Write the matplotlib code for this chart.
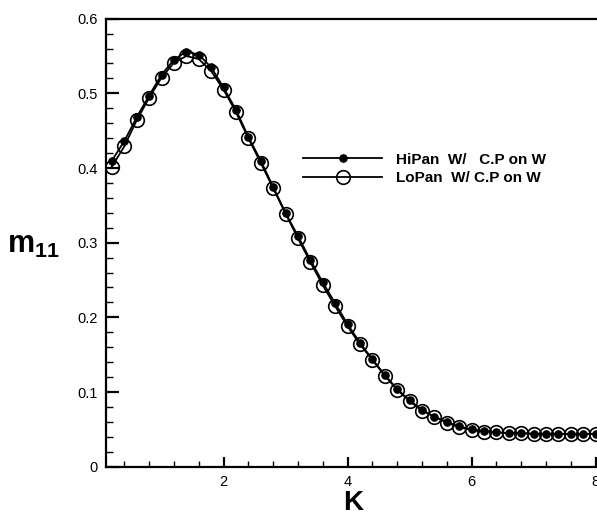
import matplotlib
matplotlib.use("Agg")
import matplotlib.pyplot as plt
from matplotlib.ticker import MultipleLocator, FixedLocator

plt.rcParams['font.family'] = ['Liberation Sans', 'DejaVu Sans']
plt.rcParams['mathtext.fontset'] = 'custom'
plt.rcParams['mathtext.rm'] = 'Liberation Sans'
plt.rcParams['mathtext.bf'] = 'Liberation Sans:bold'

k_vals = [0.2, 0.4, 0.6, 0.8, 1.0, 1.2, 1.4, 1.6, 1.8, 2.0,
          2.2, 2.4, 2.6, 2.8, 3.0, 3.2, 3.4, 3.6, 3.8, 4.0,
          4.2, 4.4, 4.6, 4.8, 5.0, 5.2, 5.4, 5.6, 5.8, 6.0,
          6.2, 6.4, 6.6, 6.8, 7.0, 7.2, 7.4, 7.6, 7.8, 8.0]
hipan = [0.410, 0.436, 0.468, 0.497, 0.525, 0.545, 0.556, 0.552, 0.535, 0.508,
         0.478, 0.442, 0.410, 0.375, 0.340, 0.309, 0.277, 0.247, 0.219, 0.191,
         0.166, 0.144, 0.123, 0.104, 0.089, 0.076, 0.067, 0.060, 0.054, 0.050,
         0.048, 0.046, 0.045, 0.045, 0.044, 0.044, 0.044, 0.044, 0.044, 0.044]
lopan = [0.402, 0.429, 0.464, 0.494, 0.521, 0.541, 0.550, 0.546, 0.530, 0.505,
         0.475, 0.440, 0.407, 0.373, 0.339, 0.306, 0.274, 0.243, 0.215, 0.188,
         0.164, 0.143, 0.122, 0.103, 0.088, 0.075, 0.067, 0.059, 0.053, 0.049,
         0.047, 0.046, 0.045, 0.045, 0.044, 0.044, 0.044, 0.044, 0.044, 0.044]
labels = ["HiPan  W/   C.P on W", "LoPan  W/ C.P on W"]
x_major = [2, 4, 6, 8]
y_major = [0, 0.1, 0.2, 0.3, 0.4, 0.5, 0.6]

W, H = 597, 516
fig = plt.figure(figsize=(W / 100, H / 100), dpi=100)
left, right, top, bottom = 105.7, 600.5, 18.7, 466.7
ax = fig.add_axes([left / W, 1 - bottom / H, (right - left) / W, (bottom - top) / H])

ax.plot(k_vals, hipan, color='black', lw=1.3, marker='o', ms=5.2,
        mfc='black', mec='black', label=labels[0], zorder=3)
ax.plot(k_vals, lopan, color='black', lw=1.3, marker='o', ms=9.8,
        mfc='none', mec='black', mew=1.2, label=labels[1], zorder=2)

ax.set_xlim(0.1, 8.08)
ax.set_ylim(0, 0.6)
ax.xaxis.set_major_locator(FixedLocator(x_major))
ax.xaxis.set_minor_locator(MultipleLocator(0.4))
ax.yaxis.set_major_locator(FixedLocator(y_major))
ax.yaxis.set_minor_locator(MultipleLocator(0.02))
ax.set_yticklabels([f"{v:g}" for v in y_major])
ax.set_xticklabels([f"{v:g}" for v in x_major])

for s in ax.spines.values():
    s.set_linewidth(1.6)
ax.tick_params(which='major', direction='in', length=9, width=1.6,
               labelsize=10.5, pad=6)
ax.tick_params(which='minor', direction='in', length=5, width=1.0)
ax.tick_params(axis='x', which='major', length=7.5)
ax.tick_params(axis='x', which='minor', length=4.5)

fig.text(353 / W, 1 - 503 / H, "K", fontsize=20, fontweight='bold',
         ha='center', va='center')
fig.text(33 / W, 1 - 245 / H, r"$\mathbf{m}_{\mathbf{11}}$", fontsize=22,
         ha='center', va='center')

leg = ax.legend(loc='center left', bbox_to_anchor=(303 / W, 1 - 169 / H),
                bbox_transform=fig.transFigure, frameon=False,
                prop={'weight': 'bold', 'size': 11}, handlelength=5.2,
                handletextpad=0.9, labelspacing=0.3, borderpad=0,
                borderaxespad=0)

fig.savefig("out.png", dpi=100)
